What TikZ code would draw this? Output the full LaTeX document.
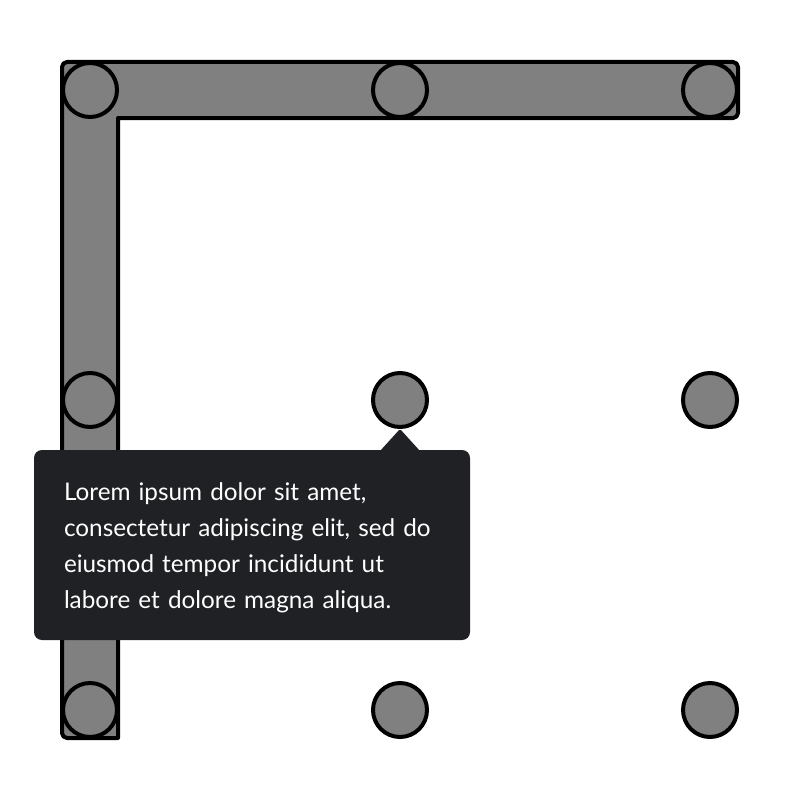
\documentclass[tikz,border=0pt]{standalone}
\usepackage{fontspec}
\setmainfont{Lato}
\usetikzlibrary{calc,positioning}
\def\wStroke{4pt}
\definecolor{cDot}{HTML}{808080}
\definecolor{cInk}{HTML}{000000}
\definecolor{cTip}{HTML}{202124}
\tikzset{
  dot/.style={circle, draw=cInk, line width=\wStroke, fill=cDot, minimum size=54pt, inner sep=0pt},
  bar/.style={draw=cInk, line width=\wStroke, fill=cDot, line join=round},
  tipbox/.style={fill=cTip, rounded corners=8pt, text=white, align=left, anchor=north west,
    text width=376pt, minimum height=190pt, inner xsep=30pt, inner ysep=0pt, outer sep=0pt,
    font=\fontsize{24.3}{36}\selectfont},
  tippin/.style={fill=cTip, rounded corners=1.5pt},
}

\begin{document}
\begin{tikzpicture}[x=1pt, y=-1pt]
\useasboundingbox (0,0) rectangle (800,800);
% Grid pitch 310, first row/column at 90.
\node[dot] (c11) at (90,90)   {};
\node[dot] (c12) at (400,90)  {};
\node[dot] (c13) at (710,90)  {};
\node[dot] (c21) at (90,400)  {};
\node[dot] (c22) at (400,400) {};
\node[dot] (c23) at (710,400) {};
\node[dot] (c31) at (90,710)  {};
\node[dot] (c32) at (400,710) {};
\node[dot] (c33) at (710,710) {};

% ---- selected path: c31 -> c11 -> c13, drawn under the dots
\draw[bar] ($(c31)+(-28,28)$) [rounded corners=5pt] -- ($(c11)+(-28,-28)$) -- ($(c13)+(28,-28)$)
  -- ($(c13)+(28,28)$) [sharp corners] -- ($(c11)+(28,28)$) -- ($(c31)+(28,28)$) [rounded corners=5pt] -- cycle;
\node[dot] at (c11) {};
\node[dot] at (c12) {};
\node[dot] at (c13) {};
\node[dot] at (c21) {};
\node[dot] at (c31) {};

% ---- tooltip under c22
\node[tipbox] (tip) at (34,450) {\rule{0pt}{24pt}Lorem ipsum dolor sit amet,\\ consectetur adipiscing elit, sed do\\ eiusmod tempor incididunt ut\\ labore et dolore magna aliqua.};
\fill[tippin] ($(tip.north -| c22)+(-20,1)$) -- (c22.south) -- ($(tip.north -| c22)+(20,1)$) -- cycle;
\end{tikzpicture}
\end{document}
